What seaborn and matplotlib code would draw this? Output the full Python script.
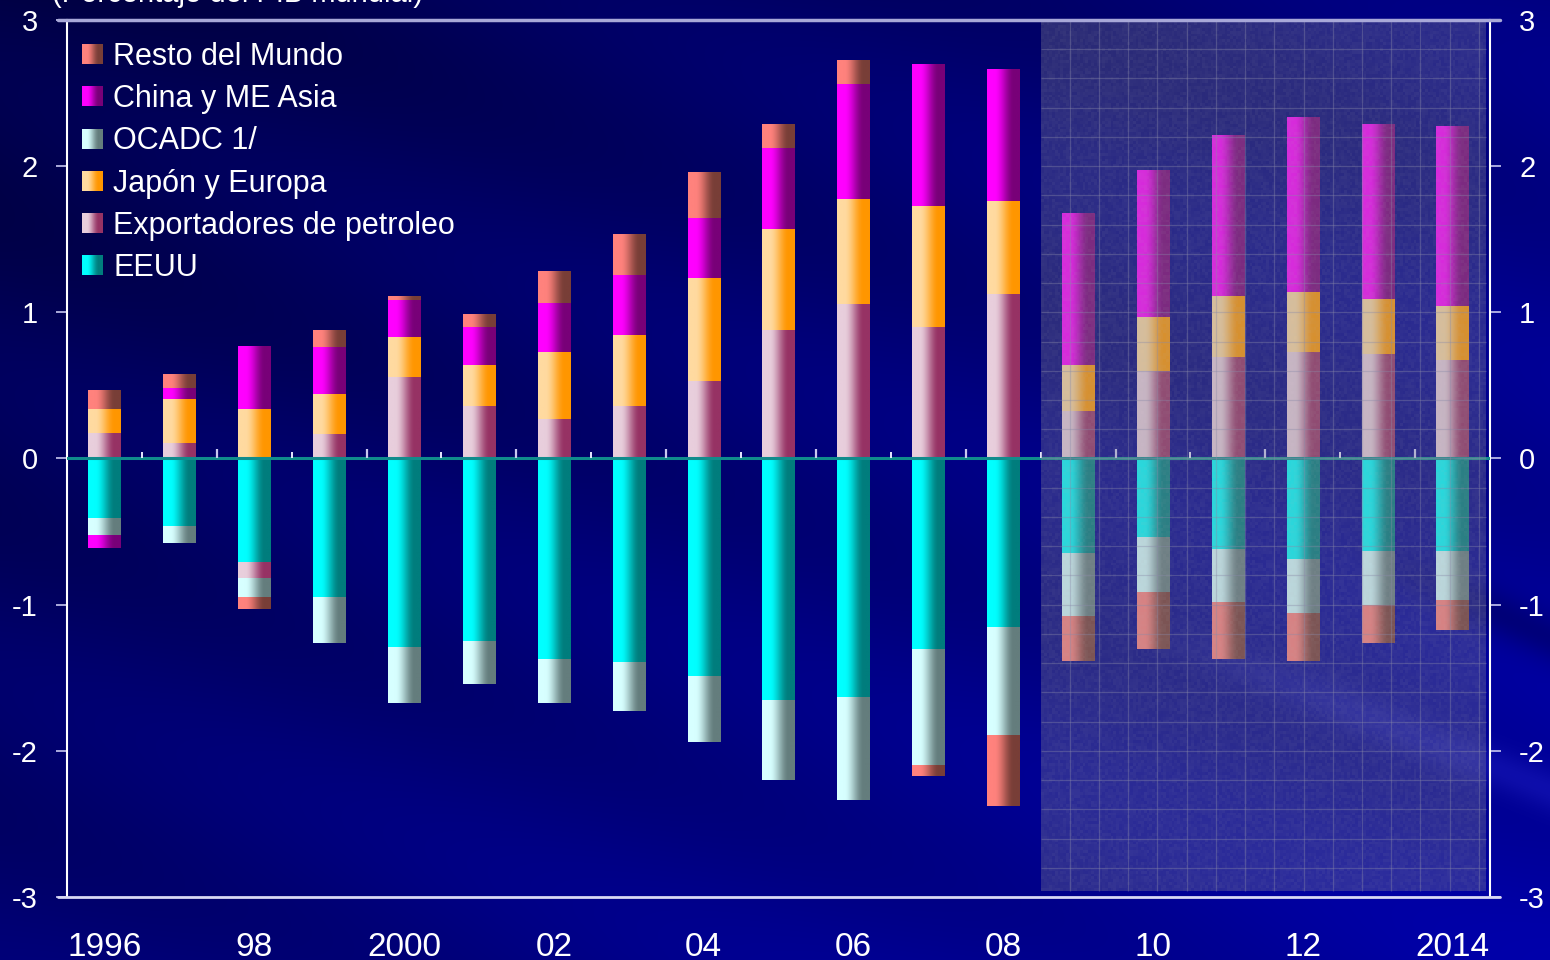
import numpy as np
import pandas as pd
import matplotlib
matplotlib.use("Agg")
import matplotlib.pyplot as plt
import seaborn as sns
from matplotlib.legend_handler import HandlerBase
from matplotlib.image import BboxImage
from matplotlib.transforms import Bbox, TransformedBbox
from matplotlib.patches import Rectangle

# ---------------------------------------------------------------- data
years = [str(y) for y in range(1996, 2015)]
tick_labels = ["1996", "98", "2000", "02", "04", "06", "08", "10", "12", "2014"]
y_ticks = [3, 2, 1, 0, -1, -2, -3]
y_tick_labels = ["3", "2", "1", "0", "-1", "-2", "-3"]
title = "(Porcentaje del PIB mundial)"

eeuu = [-0.41, -0.46, -0.71, -0.95, -1.29, -1.25, -1.375, -1.395, -1.49, -1.65,
        -1.635, -1.305, -1.15, -0.645, -0.535, -0.62, -0.685, -0.63, -0.63]
exportadores = [0.17, 0.10, -0.11, 0.16, 0.55, 0.35, 0.26, 0.35, 0.52, 0.875,
                1.05, 0.89, 1.12, 0.315, 0.59, 0.69, 0.725, 0.71, 0.67]
japon_europa = [0.165, 0.30, 0.335, 0.275, 0.275, 0.28, 0.465, 0.49, 0.71, 0.685,
                0.72, 0.83, 0.635, 0.315, 0.37, 0.415, 0.405, 0.375, 0.365]
ocadc = [-0.11, -0.12, -0.13, -0.31, -0.38, -0.295, -0.295, -0.33, -0.45, -0.55,
         -0.70, -0.79, -0.745, -0.43, -0.38, -0.365, -0.37, -0.37, -0.34]
china_asia = [-0.095, 0.075, 0.425, 0.32, 0.25, 0.26, 0.33, 0.41, 0.41, 0.555,
              0.785, 0.97, 0.90, 1.045, 1.005, 1.10, 1.20, 1.195, 1.23]
resto = [0.13, 0.095, -0.08, 0.115, 0.03, 0.095, 0.22, 0.28, 0.315, 0.165,
         0.165, -0.08, -0.48, -0.31, -0.385, -0.385, -0.33, -0.265, -0.20]

# first projected year (shaded block on the right)
first_projection = "2009"

# stacking order (bottom to top) and left->right gradient colours
series_names = ["EEUU", "Exportadores de petroleo", "Japón y Europa",
                "OCADC 1/", "China y ME Asia", "Resto del Mundo"]
series_values = [eeuu, exportadores, japon_europa, ocadc, china_asia, resto]
gradients = {
    "EEUU": ((0, 255, 255), (0, 125, 125)),
    "Exportadores de petroleo": ((232, 206, 220), (150, 50, 100)),
    "Japón y Europa": ((255, 218, 160), (255, 150, 0)),
    "OCADC 1/": ((215, 255, 255), (100, 125, 125)),
    "China y ME Asia": ((255, 0, 255), (120, 0, 120)),
    "Resto del Mundo": ((255, 130, 125), (120, 62, 55)),
}

# ---------------------------------------------------------------- style
sns.set_style("ticks")
plt.rcParams["font.family"] = ["Liberation Sans", "DejaVu Sans"]
plt.rcParams["axes.unicode_minus"] = False

W, H = 1550, 960
fig = plt.figure(figsize=(W / 100, H / 100), dpi=100)

# slide background: navy with soft diagonal bands
yy, xx = np.mgrid[0:H, 0:W].astype(float)
u, v = xx / W, yy / H
s = yy - 0.38 * xx
blue = 78 + 50 * u + 35 * v
blue += 8 * np.sin(2 * np.pi * s / 300.0)
blue -= 8 * np.exp(-((xx / 650) ** 2 + (yy / 520) ** 2))
streak = np.exp(-((yy - 0.4 * xx - 170) / 22) ** 2) * np.clip((xx - 1100) / 250, 0, 1)
blue += 22 * streak
dark_band = np.exp(-((yy - 0.45 * xx + 60) / 25) ** 2) * np.clip((xx - 1350) / 150, 0, 1)
blue -= 35 * dark_band
blue = np.clip(blue, 0, 255)
rg = 14 * streak
bg = np.dstack([rg, rg, blue]) / 255.0
bg_ax = fig.add_axes([0, 0, 1, 1], zorder=-10)
bg_ax.imshow(bg, aspect="auto", extent=[0, W, H, 0], interpolation="bilinear")
bg_ax.set_axis_off()

# ---------------------------------------------------------------- axes
ax = fig.add_axes([67 / W, 1 - 897 / H, (1490 - 67) / W, (897 - 20) / H])
ax.set_facecolor("none")


def gradient_strip(name, n=64):
    left, right = [np.array(c) / 255.0 for c in gradients[name]]
    t = np.clip((np.linspace(0, 1, n) - 0.22) / 0.6, 0, 1)
    t = t * t * (3 - 2 * t)
    return (left[None, :] * (1 - t[:, None]) + right[None, :] * t[:, None])[None, :, :]


vals = np.array(series_values)
pos_cum = np.clip(vals, 0, None).cumsum(axis=0)
neg_cum = np.clip(vals, None, 0).cumsum(axis=0)

drawn = []  # (patch, series name) in drawing order
for cum in (pos_cum, neg_cum):
    for k in range(len(series_names) - 1, -1, -1):
        name = series_names[k]
        df = pd.DataFrame({"year": years, "value": cum[k]})
        n_before = len(ax.patches)
        mid = np.mean([np.array(c) for c in gradients[name]], axis=0) / 255.0
        sns.barplot(data=df, x="year", y="value", order=years, color=mid,
                    saturation=1, width=0.43, errorbar=None, ax=ax,
                    linewidth=0, zorder=1)
        drawn += [(p, name) for p in ax.patches[n_before:]]

# horizontal light-to-dark shading on every bar segment
z = 2.0
for patch, name in drawn:
    h = patch.get_height()
    if abs(h) < 1e-9:
        continue
    x0, w, y0 = patch.get_x(), patch.get_width(), patch.get_y()
    ax.imshow(gradient_strip(name), extent=[x0, x0 + w, min(y0, y0 + h), max(y0, y0 + h)],
              aspect="auto", interpolation="bilinear", zorder=z)
    z += 0.001

n = len(years)
ax.set_xlim(-0.5, n - 0.5)
ax.set_ylim(-3, 3)

# zero line with small category ticks
ax.axhline(0, color="#108c8c", lw=2.2, zorder=4)
bounds = np.arange(0.5, n - 1, 1.0)
ax.vlines(bounds[0::2], 0, 0.042, color="#e8e8ff", lw=1.4, zorder=4)
ax.vlines(bounds[1::2], 0, 0.064, color="#c8c8f0", lw=1.6, zorder=4)

# shaded projection block with fine grid
xp = years.index(first_projection) - 0.5
x_end = n - 0.56
y_bot = -2.96
ax.add_patch(Rectangle((xp, y_bot), x_end - xp, 3 - y_bot, facecolor=(0.52, 0.52, 0.58),
                       alpha=0.32, edgecolor="none", zorder=6))
ti, tj = np.mgrid[0:300, 0:160].astype(float)
grain = np.modf(np.abs(np.sin(ti * 12.9898 + tj * 78.233)) * 43758.5453)[0]
tex = np.zeros((300, 160, 4))
tex[..., :3] = 0.7
tex[..., 3] = 0.08 * grain
ax.imshow(tex, extent=[xp, x_end, y_bot, 3], aspect="auto", interpolation="nearest", zorder=6.1)
gx = np.arange(xp + 0.39, x_end, 0.39)
gy = np.arange(-2.8, 3.0, 0.2)
ax.vlines(gx, y_bot, 3, color="#8a8aa8", lw=0.9, alpha=0.38, zorder=6.2)
ax.hlines(gy, xp, x_end, color="#8a8aa8", lw=0.9, alpha=0.38, zorder=6.2)

# frame
for side in ("top", "bottom"):
    ax.spines[side].set_visible(False)
for side in ("left", "right"):
    ax.spines[side].set_color("white")
    ax.spines[side].set_linewidth(1.5)
ax.plot([-0.62, n - 0.37], [3, 3], color="#a8a8d8", lw=2.5, clip_on=False, zorder=7)
ax.plot([-0.62, n - 0.37], [-3, -3], color="#d8d8f4", lw=2.0, clip_on=False, zorder=7)

ax.set_yticks(y_ticks)
ax.set_yticklabels(y_tick_labels)
ax.tick_params(axis="y", which="both", left=True, right=True, labelleft=True,
               labelright=True, direction="out", length=8, width=1.2,
               color="#c8c8f0", labelsize=21, labelcolor="white", pad=13)
ax.set_xticks(range(0, n, 2))
ax.set_xticklabels(tick_labels)
ax.tick_params(axis="x", length=0, pad=25, labelsize=24, labelcolor="white")
ax.set_xlabel("")
ax.set_ylabel("")


# legend with shaded swatches
class GradientHandler(HandlerBase):
    def __init__(self, img):
        super().__init__()
        self.img = img

    def create_artists(self, legend, orig_handle, xdescent, ydescent, width,
                       height, fontsize, trans):
        bb = TransformedBbox(Bbox.from_bounds(-xdescent, -ydescent, width, height), trans)
        im = BboxImage(bb, interpolation="bilinear")
        im.set_data(self.img)
        return [im]


handles, labels, hmap = [], [], {}
for name in reversed(series_names):
    h = Rectangle((0, 0), 1, 1)
    handles.append(h)
    labels.append(name)
    hmap[h] = GradientHandler(gradient_strip(name))
leg = ax.legend(handles, labels, handler_map=hmap, loc="upper left",
                bbox_to_anchor=(82 / W, 1 - 42 / H), bbox_transform=fig.transFigure,
                frameon=False, fontsize=22, labelcolor="white", borderpad=0,
                borderaxespad=0, handlelength=0.66, handleheight=0.63,
                handletextpad=0.36, labelspacing=0.40)
leg.set_zorder(10)

fig.text(52 / W, 1 - 2.5 / H, title, ha="left", va="baseline", fontsize=21, color="white")

fig.savefig("out.png", dpi=100)
